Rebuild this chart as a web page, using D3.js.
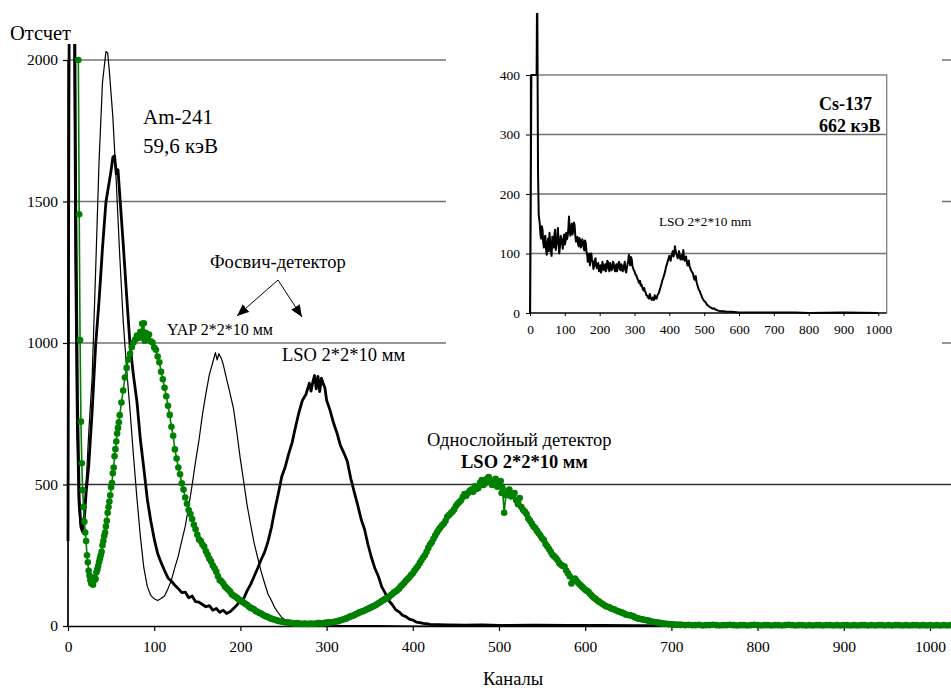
<!DOCTYPE html>
<html><head><meta charset="utf-8">
<script src="https://cdn.jsdelivr.net/npm/d3@7"></script>
<style>
body{margin:0;background:#fff}
svg{display:block}
text{font-family:"Liberation Serif","Times New Roman",serif;fill:#000}
</style>
</head><body>
<svg id="c" width="951" height="688"></svg>
<script>
// ---------- DATA ----------
const mainXTicks = [0,100,200,300,400,500,600,700,800,900,1000];
const mainYTicks = [0,500,1000,1500,2000];
const insetXTicks = [0,100,200,300,400,500,600,700,800,900,1000];
const insetYTicks = [0,100,200,300,400];

// Фосвич-детектор, тонкая линия  [канал, отсчет]
const thinBlack = [[0,0],[1,1500],[2,2600],[6,2600],[8,1300],[10,700],[12,430],[14,360],[16,350],[18,390],[20,460],[22,560],[24,680],[28,880],[32,1250],[36,1640],[40,1920],[44,2030],[46,2025],[48,1960],[52,1800],[56,1570],[60,1310],[64,1080],[68,910],[72,760],[76,600],[80,450],[84,315],[88,205],[92,140],[96,108],[100,96],[104,90],[108,97],[112,106],[116,132],[120,163],[124,207],[128,248],[132,302],[136,352],[140,422],[144,498],[148,582],[152,658],[156,748],[160,822],[164,888],[168,932],[171,966],[173,940],[175,962],[178,944],[180,925],[184,872],[188,822],[192,768],[196,682],[200,588],[204,507],[208,423],[212,356],[216,292],[220,242],[224,193],[228,152],[232,113],[236,90],[240,64],[244,46],[248,30],[252,21],[256,14],[260,10],[264,8],[268,6],[272,5],[276,4],[280,3],[300,2],[320,1],[360,1],[400,0],[1024,0]];

// Фосвич-детектор, толстая линия
const thickBlack = [[0,300],[1,1800],[2,2600],[7,2600],[9,1500],[11,800],[13,450],[15,350],[17,332],[19,380],[21,470],[24,565],[28,758],[32,990],[36,1148],[40,1335],[44,1498],[48,1572],[50,1610],[52,1656],[54,1662],[56,1598],[58,1612],[60,1525],[64,1352],[68,1168],[72,992],[76,884],[80,792],[84,658],[88,556],[92,448],[96,372],[100,308],[104,256],[108,224],[112,196],[116,170],[120,158],[124,144],[128,132],[132,118],[136,120],[140,100],[144,106],[148,86],[152,84],[156,76],[160,68],[164,72],[168,56],[172,62],[176,48],[180,56],[184,44],[188,50],[192,62],[196,74],[200,92],[204,98],[208,126],[212,148],[216,176],[220,204],[224,234],[228,260],[232,298],[236,348],[240,412],[244,468],[248,528],[252,562],[256,608],[260,648],[264,704],[268,756],[272,798],[276,818],[280,858],[282,830],[284,862],[286,885],[288,838],[290,882],[292,828],[294,876],[296,858],[298,842],[300,798],[304,762],[308,718],[312,682],[316,638],[320,612],[324,582],[328,522],[332,474],[336,428],[340,378],[344,342],[348,288],[352,242],[356,204],[360,176],[364,138],[368,116],[372,90],[376,76],[380,58],[384,50],[388,38],[392,33],[396,24],[400,21],[404,14],[408,12],[412,9],[416,8],[420,6],[440,4],[460,3],[480,4],[500,2],[540,3],[580,2],[620,2],[660,1],[700,1],[760,0],[1024,0]];

// Однослойный детектор LSO (зелёный)
const greenSingle = [[12,2000],[13,1455],[14,1010],[15,722],[16,575],[17,480],[18,420],[19,368],[20,330],[21,300],[22,250],[23,225],[24,195],[25,178],[26,162],[27,150],[28,155],[29,146],[30,160],[31,172],[32,166],[33,190],[34,200],[35,212],[36,226],[37,238],[38,250],[39,262],[40,285],[41,300],[42,318],[43,330],[44,352],[45,372],[46,400],[47,420],[48,440],[49,462],[50,490],[51,505],[52,540],[53,560],[54,600],[55,625],[56,652],[57,680],[58,700],[59,720],[60,745],[62,790],[64,832],[66,878],[68,912],[70,942],[72,962],[74,985],[76,1002],[78,1012],[80,1026],[82,1018],[84,1040],[85,1030],[86,1068],[87,1022],[88,1070],[89,1008],[90,1036],[92,1020],[94,1030],[96,1006],[98,1002],[100,984],[102,976],[104,952],[106,932],[108,898],[110,872],[112,842],[114,812],[116,778],[118,746],[120,704],[122,672],[124,624],[126,592],[128,560],[130,536],[132,504],[134,482],[136,454],[138,432],[140,410],[142,396],[144,378],[146,358],[148,342],[150,322],[152,306],[154,300],[156,288],[158,280],[160,264],[162,252],[164,238],[166,228],[168,214],[170,204],[172,192],[174,176],[176,162],[178,158],[180,150],[182,140],[184,134],[186,128],[188,122],[190,112],[192,108],[194,104],[196,100],[198,94],[200,90],[202,86],[204,82],[206,78],[208,74],[210,68],[212,64],[214,62],[216,58],[218,52],[220,50],[222,46],[224,44],[226,40],[228,36],[230,34],[232,32],[234,28],[236,26],[238,24],[240,22],[242,20],[244,18],[246,17],[248,16],[250,14],[252,13],[254,12],[256,12],[258,11],[260,10],[262,9],[264,8],[266,10],[268,9],[270,8],[272,7],[274,9],[276,8],[278,7],[280,8],[282,9],[284,7],[286,8],[288,9],[290,10],[292,10],[294,8],[296,9],[298,11],[300,11],[302,13],[304,12],[306,13],[308,14],[310,16],[312,16],[314,18],[316,20],[318,22],[320,24],[322,26],[324,28],[326,32],[328,34],[330,36],[332,38],[334,42],[336,44],[338,48],[340,50],[342,52],[344,55],[346,58],[348,60],[350,64],[352,66],[354,70],[356,72],[358,76],[360,80],[362,84],[364,88],[366,92],[368,96],[370,98],[372,102],[374,108],[376,112],[378,118],[380,122],[382,126],[384,132],[386,140],[388,146],[390,152],[392,160],[394,166],[396,172],[398,180],[400,186],[402,196],[404,204],[406,212],[408,222],[410,232],[412,242],[414,250],[416,262],[418,276],[420,288],[422,296],[424,308],[426,320],[428,330],[430,340],[432,348],[434,356],[436,362],[438,372],[440,386],[442,392],[444,398],[446,404],[448,412],[450,424],[452,432],[454,438],[456,444],[458,456],[460,466],[462,460],[464,470],[466,478],[468,482],[470,474],[472,494],[474,484],[476,488],[478,506],[480,516],[482,498],[484,504],[486,520],[488,526],[490,508],[492,498],[494,514],[496,520],[498,492],[500,502],[502,512],[503,470],[504,488],[506,400],[508,462],[510,476],[512,482],[514,458],[516,464],[518,470],[520,444],[522,430],[524,452],[526,420],[528,410],[530,404],[532,396],[534,380],[536,372],[538,362],[540,352],[542,346],[544,336],[546,328],[548,320],[550,310],[552,304],[554,290],[556,282],[558,272],[560,262],[562,252],[564,246],[566,240],[568,232],[570,222],[572,216],[574,212],[576,210],[578,196],[580,186],[582,176],[584,150],[586,162],[588,168],[590,160],[592,152],[594,146],[596,140],[598,134],[600,128],[602,124],[604,120],[606,112],[608,106],[610,100],[612,96],[614,90],[616,86],[618,82],[620,78],[622,74],[624,70],[626,68],[628,66],[630,62],[632,60],[634,58],[636,55],[638,52],[640,50],[642,48],[644,46],[646,42],[648,40],[650,39],[652,38],[654,36],[656,34],[658,30],[660,28],[662,26],[664,25],[666,24],[668,22],[670,21],[672,20],[674,18],[676,17],[678,15],[680,14],[682,13],[684,12],[686,11],[688,10],[690,9],[692,8],[694,8],[696,7],[698,6],[700,6],[702,5],[704,5],[706,4],[708,4],[710,4],[712,4],[716,3],[720,4],[724,3],[728,3],[732,4],[736,2],[740,3],[744,3],[748,4],[752,3],[756,2],[760,3],[764,3],[768,4],[772,3],[776,2],[780,3],[784,3],[788,2],[792,3],[796,4],[800,3],[804,2],[808,3],[812,3],[816,2],[820,3],[824,3],[828,2],[832,3],[836,4],[840,3],[844,2],[848,3],[852,3],[856,2],[860,3],[864,2],[868,3],[872,3],[876,2],[880,3],[884,3],[888,2],[892,3],[896,2],[900,3],[904,3],[908,2],[912,3],[916,2],[920,3],[924,3],[928,2],[932,3],[936,2],[940,3],[944,3],[948,2],[952,3],[956,2],[960,3],[964,3],[968,2],[972,3],[976,2],[980,3],[984,3],[988,2],[992,3],[996,2],[1000,3],[1004,2],[1008,3],[1012,2],[1016,3],[1020,2],[1024,3]];

// Врезка: Cs-137, LSO 2*2*10 mm
const cs137 = [[0,0],[2,180],[4,400],[19,400],[20,510],[21,510],[23,240],[25,165],[28,150],[30,132],[32,125],[34,146],[36,140],[38,118],[40,110],[42,126],[44,130],[46,108],[48,98],[50,116],[52,125],[54,104],[56,135],[58,118],[60,105],[62,96],[64,128],[66,118],[68,110],[70,132],[72,140],[74,106],[76,115],[78,122],[80,143],[82,118],[84,100],[86,112],[88,130],[90,124],[92,118],[94,108],[96,125],[98,132],[100,115],[102,120],[104,135],[106,124],[108,128],[110,140],[112,162],[114,138],[116,130],[118,144],[120,150],[122,132],[124,138],[126,152],[128,148],[130,130],[132,120],[134,124],[136,128],[138,116],[140,112],[142,126],[144,122],[146,110],[148,115],[150,124],[152,120],[154,110],[156,105],[158,122],[160,118],[162,104],[164,98],[166,86],[168,92],[170,100],[172,80],[174,88],[176,100],[178,90],[180,86],[182,74],[184,78],[186,88],[188,92],[190,80],[192,75],[194,82],[196,84],[198,70],[200,78],[202,80],[204,68],[206,74],[208,86],[210,80],[212,72],[214,76],[216,82],[218,70],[220,76],[222,88],[224,85],[226,74],[228,70],[230,84],[232,80],[234,72],[236,74],[238,86],[240,84],[242,76],[244,70],[246,78],[248,82],[250,70],[252,76],[254,84],[256,86],[258,74],[260,72],[262,82],[264,80],[266,70],[268,74],[270,80],[272,86],[274,72],[276,68],[278,76],[280,82],[282,88],[284,98],[286,84],[288,80],[290,94],[292,90],[294,80],[296,75],[298,72],[300,70],[302,66],[304,64],[306,62],[308,58],[310,56],[312,52],[314,50],[316,54],[318,46],[320,48],[322,44],[324,40],[326,38],[328,42],[330,36],[332,35],[334,30],[336,30],[338,26],[340,28],[342,24],[344,32],[346,26],[348,24],[350,22],[352,26],[354,24],[356,22],[358,30],[360,28],[362,24],[364,25],[366,30],[368,32],[370,34],[372,38],[374,42],[376,46],[378,50],[380,55],[382,58],[384,62],[386,66],[388,70],[390,76],[392,80],[394,84],[396,88],[398,92],[400,96],[402,90],[404,88],[406,96],[408,100],[410,104],[412,95],[414,100],[416,112],[418,104],[420,100],[422,96],[424,92],[426,98],[428,104],[430,94],[432,90],[434,96],[436,98],[438,90],[440,106],[442,96],[444,88],[446,92],[448,95],[450,86],[452,80],[454,84],[456,88],[458,78],[460,76],[462,72],[464,70],[466,68],[468,66],[470,60],[472,56],[474,58],[476,62],[478,52],[480,48],[482,44],[484,40],[486,38],[488,36],[490,32],[492,30],[494,26],[496,24],[498,22],[500,20],[504,18],[508,14],[512,12],[516,10],[520,9],[524,7],[528,8],[532,6],[536,5],[540,4],[548,3],[556,3],[564,2],[580,2],[600,1],[650,1],[700,1],[760,1],[800,0],[900,1],[1000,0]];

// ---------- DRAW ----------
const svg = d3.select("#c");
const FONT = '"Liberation Serif","Times New Roman",serif';

const x = d3.scaleLinear().domain([0,1024]).range([68,950.7]);
const y = d3.scaleLinear().domain([0,2000]).range([626,60]);

const defs = svg.append("defs");
defs.append("clipPath").attr("id","mainClip").append("rect")
  .attr("x",60).attr("y",44).attr("width",891).attr("height",600);
defs.append("clipPath").attr("id","insetClip").append("rect")
  .attr("x",526).attr("y",13).attr("width",364).attr("height",306);
defs.append("marker").attr("id","arr").attr("viewBox","0 0 12 10")
  .attr("refX",12).attr("refY",5).attr("markerWidth",12).attr("markerHeight",10)
  .attr("markerUnits","userSpaceOnUse").attr("orient","auto")
  .append("path").attr("d","M0,0 L12,5 L0,10 Z").attr("fill","#000");

// gridlines
svg.append("g").selectAll("line").data(mainYTicks.filter(d=>d>0)).join("line")
  .attr("x1",x(0)).attr("x2",951).attr("y1",d=>y(d)).attr("y2",d=>y(d))
  .attr("stroke",d=>d===500?"#333":"#707070").attr("stroke-width",1.3);

// axes
const fmt = d3.format("d");
const xAxis = d3.axisBottom(x).tickValues(mainXTicks).tickFormat(fmt).tickSize(5).tickPadding(10).tickSizeOuter(0);
const gx = svg.append("g").attr("transform",`translate(0,${y(0)})`).call(xAxis);
const yAxis = d3.axisLeft(y).tickValues(mainYTicks).tickFormat(fmt).tickSize(5).tickPadding(5).tickSizeOuter(0);
const gy = svg.append("g").attr("transform",`translate(${x(0)},0)`).call(yAxis);
[gx,gy].forEach(g=>{
  g.attr("font-family",FONT).attr("font-size",15);
  g.select(".domain").attr("stroke","#000").attr("stroke-width",1.3);
  g.selectAll(".tick line").attr("stroke","#000").attr("stroke-width",1.2);
  g.selectAll(".tick text").attr("font-family",FONT).attr("font-size",15.5).attr("fill","#000");
});
gy.select(".domain").attr("d",`M0,${y(0)}V${y(2000)}`);

// series
const line = d3.line().x(d=>x(d[0])).y(d=>y(d[1]));
const dataG = svg.append("g").attr("clip-path","url(#mainClip)");
dataG.append("path").datum(thinBlack).attr("d",line).attr("fill","none")
  .attr("stroke","#000").attr("stroke-width",1.2).attr("stroke-linejoin","round");
dataG.append("path").datum(thickBlack).attr("d",line).attr("fill","none")
  .attr("stroke","#000").attr("stroke-width",2.8).attr("stroke-linejoin","round");
dataG.append("path").datum(greenSingle).attr("d",line).attr("fill","none")
  .attr("stroke","#008000").attr("stroke-width",1.6);
dataG.append("g").selectAll("circle").data(greenSingle).join("circle")
  .attr("cx",d=>x(d[0])).attr("cy",d=>y(d[1])).attr("r",3.3).attr("fill","#008000");

// texts
function txt(s,xp,yp,size,bold,anchor){
  return svg.append("text").attr("x",xp).attr("y",yp).attr("font-size",size)
    .attr("font-family",FONT)
    .attr("font-weight",bold?"bold":"normal").attr("text-anchor",anchor||"start").text(s);
}
txt("Отсчет",10,40,20.5);
txt("Каналы",483,685,18.5);
txt("Am-241",143,124,21);
txt("59,6 кэВ",143,153,21);
txt("Фосвич-детектор",210,268,18.5);
txt("YAP 2*2*10 мм",167,335,16);
txt("LSO 2*2*10 мм",282,361,18.5);
txt("Однослойный детектор",427,446,18.5);
txt("LSO 2*2*10 мм",461,468,18.5,true);

// arrows
svg.append("line").attr("x1",278).attr("y1",280).attr("x2",237).attr("y2",316)
  .attr("stroke","#000").attr("stroke-width",1).attr("marker-end","url(#arr)");
svg.append("line").attr("x1",278).attr("y1",280).attr("x2",302).attr("y2",317)
  .attr("stroke","#000").attr("stroke-width",1).attr("marker-end","url(#arr)");

// ---------- INSET ----------
svg.append("rect").attr("x",446).attr("y",0).attr("width",496).attr("height",352).attr("fill","#fff");
const ix = d3.scaleLinear().domain([0,1024]).range([530,886.7]);
const iy = d3.scaleLinear().domain([0,400]).range([313,75]);

svg.append("g").selectAll("line").data(insetYTicks.filter(d=>d>0&&d<400)).join("line")
  .attr("x1",ix(0)).attr("x2",ix(1024)).attr("y1",d=>iy(d)).attr("y2",d=>iy(d))
  .attr("stroke","#707070").attr("stroke-width",1.3);
svg.append("path").attr("d",`M${ix(0)},${iy(400)}H${ix(1024)}V${iy(0)}`)
  .attr("fill","none").attr("stroke","#808080").attr("stroke-width",1.3);

const ixAxis = d3.axisBottom(ix).tickValues(insetXTicks).tickFormat(fmt).tickSize(3).tickPadding(8).tickSizeOuter(0);
const igx = svg.append("g").attr("transform",`translate(0,${iy(0)})`).call(ixAxis);
const iyAxis = d3.axisLeft(iy).tickValues(insetYTicks).tickFormat(fmt).tickSize(4).tickPadding(6).tickSizeOuter(0);
const igy = svg.append("g").attr("transform",`translate(${ix(0)},0)`).call(iyAxis);
[igx,igy].forEach(g=>{
  g.attr("font-family",FONT);
  g.select(".domain").attr("stroke","#000").attr("stroke-width",1.3);
  g.selectAll(".tick line").attr("stroke","#000");
  g.selectAll(".tick text").attr("font-family",FONT).attr("font-size",13.5).attr("fill","#000");
});
igx.select(".domain").attr("d",`M${ix(0)},0H${ix(1024)}`);

const iline = d3.line().x(d=>ix(d[0])).y(d=>iy(d[1]));
svg.append("g").attr("clip-path","url(#insetClip)").append("path").datum(cs137)
  .attr("d",iline).attr("fill","none").attr("stroke","#000").attr("stroke-width",2)
  .attr("stroke-linejoin","round");

txt("Cs-137",819,110,18,true);
txt("662 кэВ",819,132,18,true);
txt("LSO 2*2*10 mm",659,226,13.3);
</script>
</body></html>
